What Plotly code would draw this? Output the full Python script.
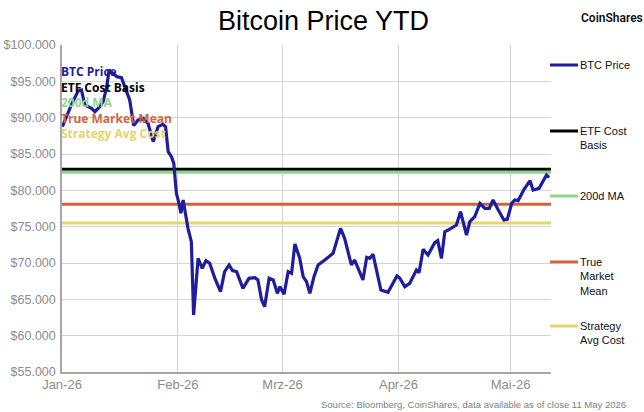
import pandas as pd
import plotly.graph_objects as go

# ---------------- data ----------------
start_date = "2026-01-01"
# day offset from 1 Jan 2026 and BTC price (USD)
btc_day = [0.1, 1.2, 2.5, 4.3, 5.2, 6.1, 7.9, 8.8, 10.1, 11.0, 11.9, 12.6, 13.5, 14.7, 15.9,
           17.0, 18.1, 19.2, 20.3, 21.7, 23.0, 24.4, 25.7, 27.0, 27.7, 28.4, 29.3, 29.9, 30.6,
           31.3, 31.8, 32.4, 33.1, 33.7, 34.6, 35.2, 36.4, 37.5, 38.5, 39.5, 40.9, 42.4, 43.5,
           44.7, 45.6, 46.7, 48.4, 50.0, 51.6, 52.4, 53.4, 54.2, 55.4, 56.5, 57.6, 58.3, 59.4,
           60.5, 61.4, 62.3, 63.6, 64.5, 65.4, 66.3, 67.4, 68.5, 70.3, 72.5, 74.5, 75.6, 77.4,
           78.3, 80.5, 81.5, 82.3, 83.2, 85.3, 87.2, 89.6, 90.4, 91.7, 93.0, 94.8, 95.5, 96.6,
           97.9, 99.7, 100.5, 101.5, 102.4, 103.3, 104.5, 105.5, 106.6, 107.3, 108.2, 109.1,
           110.4, 111.8, 113.1, 114.3, 115.3, 116.7, 118.2, 119.1, 120.3, 121.1, 122.0, 123.6,
           125.2, 126.0, 127.6, 129.6, 130.3]
btc_price = [88760, 90140, 91750, 93670, 93810, 91750, 91290, 90820, 91510, 92200, 94040, 96560,
             96110, 95640, 95500, 94040, 92430, 88900, 89680, 89910, 89220, 86700, 88760, 89080,
             88760, 85320, 84600, 83700, 79590, 78210, 76840, 78670, 76380, 74770, 72940, 62840,
             70640, 69270, 70320, 69960, 67890, 66050, 68810, 69730, 68950, 68810, 66510, 67890,
             67980, 67660, 64910, 63990, 67890, 67660, 65830, 66740, 65690, 68810, 68580, 72620,
             70640, 68120, 67430, 65830, 68120, 69730, 70410, 71330, 74770, 73390, 69730, 70410,
             67660, 70780, 70640, 71190, 66280, 65960, 68210, 67890, 66740, 67200, 69040, 68670,
             71880, 71100, 72800, 73070, 70640, 74310, 74540, 74990, 75230, 77060, 75690, 73850,
             75690, 76380, 78210, 77520, 77520, 78670, 77290, 75920, 76010, 78210, 78670, 78580,
             80140, 81330, 80050, 80280, 82110, 81790]

level_names = ["ETF Cost Basis", "200d MA", "True Market Mean", "Strategy Avg Cost"]
level_values = [82900, 82500, 78100, 75500]

month_ticks = ["2026-01-01", "2026-02-01", "2026-03-01", "2026-04-01", "2026-05-01"]
month_labels = ["Jan-26", "Feb-26", "Mrz-26", "Apr-26", "Mai-26"]
y_ticks = [55000, 60000, 65000, 70000, 75000, 80000, 85000, 90000, 95000, 100000]
y_tick_labels = ["$" + f"{v:,}".replace(",", ".") for v in y_ticks]

# legend texts (wrapped as in the reference)
legend_lines = [["BTC Price"], ["ETF Cost", "Basis"], ["200d MA"],
                ["True", "Market", "Mean"], ["Strategy", "Avg Cost"]]

# ---------------- styles ----------------
btc_color = "#1d1d9e"
level_colors = ["#000000", "#8fd68a", "#d0623c", "#e6d46c"]
all_colors = [btc_color] + level_colors
label_colors = [btc_color, "#000000", "#8fd68a", "#d4643c", "#e4d46c"]
grid_col = "#d4d4d4"
axis_col = "#a6a6a6"
tick_col = "#8c8c8c"

base = pd.Timestamp(start_date)
x_btc = base + pd.to_timedelta(btc_day, unit="D")
x_end = base + pd.to_timedelta(130.8, unit="D")

fig = go.Figure()
for name, val, col in zip(level_names, level_values, level_colors):
    fig.add_trace(go.Scatter(x=[base, x_end], y=[val, val], mode="lines", name=name,
                             line=dict(color=col, width=3), showlegend=False,
                             hoverinfo="skip"))
fig.add_trace(go.Scatter(x=x_btc, y=btc_price, mode="lines", name="BTC Price",
                         line=dict(color=btc_color, width=3.2), showlegend=False))

annotations = []
# title
annotations.append(dict(text="Bitcoin Price YTD", xref="paper", yref="paper", x=0.534, y=1.073,
                        xanchor="center", yanchor="middle", showarrow=False,
                        font=dict(family="Liberation Sans, Arial", size=27, color="#000000")))
annotations.append(dict(text="CoinShares", xref="paper", yref="paper", x=1.125, y=1.083,
                        xanchor="center", yanchor="middle", showarrow=False,
                        font=dict(family="Roboto", size=12, color="#111111", weight=600)))
annotations.append(dict(text="Source: Bloomberg, CoinShares, data available as of close 11 May 2026",
                        xref="paper", yref="paper", x=1.157, y=-0.098, xanchor="right",
                        yanchor="middle", showarrow=False,
                        font=dict(family="Liberation Sans, Arial", size=9.5, color="#808080")))

# overlay labels top-left, as one multi-line text block
overlay_names = ["BTC Price"] + level_names
overlay_text = "<br>".join(
    f'<span style="color:{c}"><b>{n}</b></span>' for n, c in zip(overlay_names, label_colors))
annotations.append(dict(text=overlay_text, xref="paper", yref="paper", x=-0.005, y=0.824,
                        xanchor="left", yanchor="middle", align="left", showarrow=False,
                        borderpad=0,
                        font=dict(family="Open Sans", size=12, color="#000000")))

# manual legend on the right
shapes = []
leg_y_px = [65, 131, 196, 262, 326]
line_step = 14.3
for lines, ypx, col in zip(legend_lines, leg_y_px, all_colors):
    yp = (372 - ypx) / 327
    shapes.append(dict(type="line", xref="paper", yref="paper",
                       x0=(550 - 62) / 489, x1=(578 - 62) / 489, y0=yp, y1=yp,
                       line=dict(color=col, width=3)))
    annotations.append(dict(text="<br>".join(lines), xref="paper", yref="paper",
                            x=(579 - 62) / 489,
                            y=(372 - ypx - (len(lines) - 1) * line_step / 2) / 327,
                            xanchor="left", yanchor="middle", align="left", showarrow=False,
                            borderpad=0,
                            font=dict(family="Liberation Sans, Arial", size=11,
                                      color="#111111")))

fig.update_layout(
    width=644, height=412,
    margin=dict(l=62, r=93, t=45, b=40, autoexpand=False),
    paper_bgcolor="white", plot_bgcolor="white",
    showlegend=False,
    annotations=annotations,
    shapes=shapes,
    xaxis=dict(type="date", range=[base, x_end], tickvals=month_ticks, ticktext=month_labels,
               showgrid=True, gridcolor=grid_col, gridwidth=1, showline=True,
               linecolor=axis_col, linewidth=1.5, ticks="", zeroline=False, automargin=False,
               tickfont=dict(family="Liberation Sans, Arial", size=13, color=tick_col)),
    yaxis=dict(range=[55000, 100000], tickvals=y_ticks, ticktext=y_tick_labels,
               showgrid=True, gridcolor=grid_col, gridwidth=1, showline=True,
               linecolor=axis_col, linewidth=1.5, ticks="", zeroline=False, automargin=False,
               ticklabelstandoff=2,
               tickfont=dict(family="Liberation Sans, Arial", size=12.5, color=tick_col)),
)

fig.write_html("out.html")
